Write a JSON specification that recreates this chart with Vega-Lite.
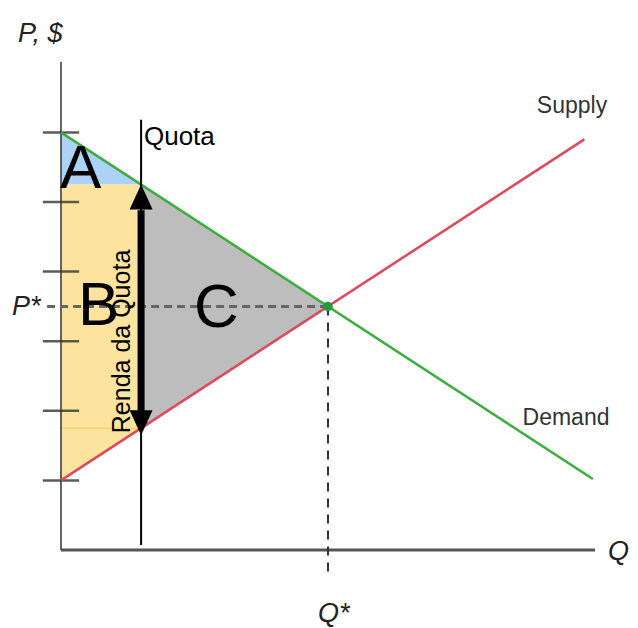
{
  "$schema": "https://vega.github.io/schema/vega-lite/v6.json",
  "width": 638,
  "height": 628,
  "padding": 0,
  "autosize": "none",
  "background": "white",
  "config": {"view": {"stroke": null}},
  "encoding": {
    "x": {"field": "q", "type": "quantitative", "scale": {"domain": [-1.142, 10.805], "nice": false, "zero": false}, "axis": null},
    "y": {"field": "p", "type": "quantitative", "scale": {"domain": [-1.121, 7.902], "nice": false, "zero": false}, "axis": null}
  },
  "layer": [
    {
      "data": {"values": [
        {"region": "A", "q": 0, "p": 6, "p2": 5.25},
        {"region": "A", "q": 1.5, "p": 5.25, "p2": 5.25},
        {"region": "B", "q": 0, "p": 5.25, "p2": 1},
        {"region": "B", "q": 1.5, "p": 5.25, "p2": 1.75},
        {"region": "C", "q": 1.5, "p": 5.25, "p2": 1.75},
        {"region": "C", "q": 5, "p": 3.5, "p2": 3.5}
      ]},
      "mark": {"type": "area", "orient": "vertical", "opacity": 1, "strokeWidth": 0},
      "encoding": {
        "y2": {"field": "p2"},
        "color": {"field": "region", "type": "nominal", "scale": {"domain": ["A", "B", "C"], "range": ["#acd3f5", "#fde49e", "#bdbdbd"]}, "legend": null}
      }
    },
    {
      "data": {"values": [{"q": 0, "p": 1.75, "q2": 1.5, "p2": 1.75}]},
      "mark": {"type": "rule", "color": "#f5c75e", "strokeWidth": 1},
      "encoding": {"x2": {"field": "q2"}, "y2": {"field": "p2"}}
    },
    {
      "data": {"values": [
        {"q": -0.34, "q2": 0.34, "p": 1}, {"q": -0.34, "q2": 0.34, "p": 2}, {"q": -0.34, "q2": 0.34, "p": 3},
        {"q": -0.34, "q2": 0.34, "p": 4}, {"q": -0.34, "q2": 0.34, "p": 5}, {"q": -0.34, "q2": 0.34, "p": 6}
      ]},
      "mark": {"type": "rule", "color": "#333333", "strokeWidth": 2.5, "opacity": 0.8},
      "encoding": {"x2": {"field": "q2"}}
    },
    {
      "data": {"values": [{"q": 0, "p": 0, "q2": 0, "p2": 7.011}]},
      "mark": {"type": "rule", "color": "#333333", "strokeWidth": 1.5},
      "encoding": {"x2": {"field": "q2"}, "y2": {"field": "p2"}}
    },
    {
      "data": {"values": [{"q": 0, "p": 0, "q2": 10, "p2": 0}]},
      "mark": {"type": "rule", "color": "#555555", "strokeWidth": 3},
      "encoding": {"x2": {"field": "q2"}, "y2": {"field": "p2"}}
    },
    {
      "data": {"values": [{"q": -0.26, "p": 3.5, "q2": 5, "p2": 3.5}]},
      "mark": {"type": "rule", "color": "#666666", "strokeWidth": 3, "strokeDash": [8, 5]},
      "encoding": {"x2": {"field": "q2"}, "y2": {"field": "p2"}}
    },
    {
      "data": {"values": [{"q": 5, "p": 3.5, "q2": 5, "p2": -0.36}]},
      "mark": {"type": "rule", "color": "#333333", "strokeWidth": 2, "strokeDash": [9, 7]},
      "encoding": {"x2": {"field": "q2"}, "y2": {"field": "p2"}}
    },
    {
      "data": {"values": [
        {"curve": "Demand", "q": 0, "p": 6},
        {"curve": "Demand", "q": 9.96, "p": 1.02}
      ]},
      "mark": {"type": "line", "strokeWidth": 2.5, "color": "#3cae3c"},
      "encoding": {}
    },
    {
      "data": {"values": [
        {"curve": "Supply", "q": 0, "p": 1},
        {"curve": "Supply", "q": 9.8, "p": 5.9}
      ]},
      "mark": {"type": "line", "strokeWidth": 2.5, "color": "#e2465c"},
      "encoding": {}
    },
    {
      "data": {"values": [{"q": 5, "p": 3.5}]},
      "mark": {"type": "point", "filled": true, "size": 90, "color": "#1e9e3a", "opacity": 1},
      "encoding": {}
    },
    {
      "data": {"values": [{"q": 1.5, "p": 0.072, "q2": 1.5, "p2": 6.18}]},
      "mark": {"type": "rule", "color": "#000000", "strokeWidth": 2},
      "encoding": {"x2": {"field": "q2"}, "y2": {"field": "p2"}}
    },
    {
      "data": {"values": [{"q": 1.5, "p": 1.97, "q2": 1.5, "p2": 4.88}]},
      "mark": {"type": "rule", "color": "#000000", "strokeWidth": 7},
      "encoding": {"x2": {"field": "q2"}, "y2": {"field": "p2"}}
    },
    {
      "data": {"values": [{"q": 1.5, "p": 5.25}]},
      "mark": {"type": "point", "shape": "M0,0L0.46,1L-0.46,1Z", "size": 2500, "filled": true, "color": "#000000", "opacity": 1, "strokeWidth": 0},
      "encoding": {}
    },
    {
      "data": {"values": [{"q": 1.5, "p": 1.65}]},
      "mark": {"type": "point", "shape": "M0,0L0.46,-1L-0.46,-1Z", "size": 2500, "filled": true, "color": "#000000", "opacity": 1, "strokeWidth": 0},
      "encoding": {}
    },
    {
      "data": {"values": [
        {"label": "A", "q": -0.019, "p": 5.2},
        {"label": "B", "q": 0.318, "p": 3.233},
        {"label": "C", "q": 2.49, "p": 3.204}
      ]},
      "mark": {"type": "text", "font": "Liberation Sans", "fontSize": 62, "align": "left", "baseline": "alphabetic", "color": "#000000"},
      "encoding": {"text": {"field": "label"}}
    },
    {
      "data": {"values": [{"label": "Quota", "q": 1.554, "p": 5.819}]},
      "mark": {"type": "text", "font": "Liberation Sans", "fontSize": 26, "align": "left", "baseline": "alphabetic", "color": "#000000"},
      "encoding": {"text": {"field": "label"}}
    },
    {
      "data": {"values": [{"label": "Renda da Quota", "q": 1.292, "p": 2.996}]},
      "mark": {"type": "text", "font": "Liberation Sans", "fontSize": 25, "angle": 270, "align": "center", "baseline": "alphabetic", "color": "#000000"},
      "encoding": {"text": {"field": "label"}}
    },
    {
      "data": {"values": [
        {"label": "Supply", "q": 9.569, "p": 6.279},
        {"label": "Demand", "q": 9.457, "p": 1.796}
      ]},
      "mark": {"type": "text", "font": "Liberation Sans", "fontSize": 23, "align": "center", "baseline": "alphabetic", "color": "#333333"},
      "encoding": {"text": {"field": "label"}}
    },
    {
      "data": {"values": [
        {"label": "P, $", "q": -0.805, "p": 7.299},
        {"label": "P*", "q": -0.918, "p": 3.376},
        {"label": "Q", "q": 10.243, "p": -0.144},
        {"label": "Q*", "q": 4.813, "p": -1.034}
      ]},
      "mark": {"type": "text", "font": "Liberation Sans", "fontStyle": "italic", "fontSize": 27, "align": "left", "baseline": "alphabetic", "color": "#222222"},
      "encoding": {"text": {"field": "label"}}
    }
  ]
}
